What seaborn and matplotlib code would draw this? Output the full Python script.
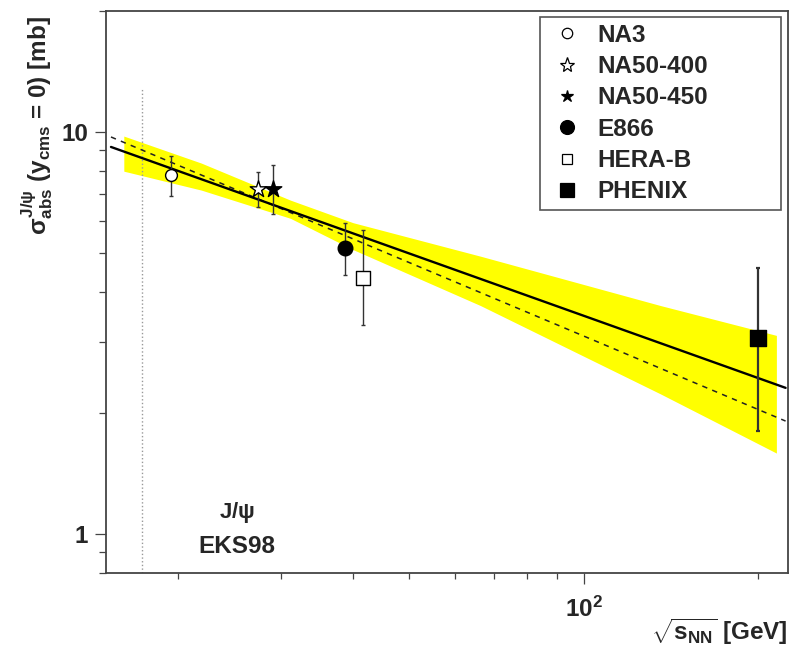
import numpy as np
import pandas as pd
import matplotlib
matplotlib.use("Agg")
import matplotlib.pyplot as plt
import seaborn as sns
from matplotlib import ticker
from matplotlib.lines import Line2D

# ---------------- data ----------------
experiments = ["NA3", "NA50-400", "NA50-450", "E866", "HERA-B", "PHENIX"]
sqrt_s = [19.4, 27.4, 29.1, 38.8, 41.6, 200.0]
sigma = [7.8, 7.2, 7.2, 5.14, 4.33, 3.08]
sigma_up = [8.7, 7.95, 8.3, 5.95, 5.7, 4.6]
sigma_down = [6.95, 6.5, 6.25, 4.4, 3.32, 1.8]

fit_x = [15.3, 223.0]
fit_solid = [9.18, 2.31]
fit_dashed = [9.72, 1.91]

band_x = [16.1, 21.9, 31.2, 40.0, 66.4, 135.8, 215.0]
band_hi = [9.77, 8.37, 6.77, 5.95, 4.91, 3.70, 3.12]
band_lo = [7.99, 7.17, 6.10, 5.10, 3.70, 2.23, 1.59]

sps_x = [17.3, 17.3]
sps_y = [0.8, 12.9]

# marker styles per experiment: (marker, facecolor, size in pt)
styles = {
    "NA3": ("o", "white", 8.5),
    "NA50-400": ("*", "white", 12.5),
    "NA50-450": ("*", "black", 12.5),
    "E866": ("o", "black", 10.5),
    "HERA-B": ("s", "white", 9.5),
    "PHENIX": ("s", "black", 11.5),
}
legend_sizes = {"NA3": 7.5, "NA50-400": 11, "NA50-450": 9, "E866": 10, "HERA-B": 7.5, "PHENIX": 10}

# ---------------- style ----------------
sns.set_style("white")
plt.rcParams["font.family"] = ["Liberation Sans", "DejaVu Sans"]
plt.rcParams["font.weight"] = "bold"
plt.rcParams["mathtext.fontset"] = "custom"
plt.rcParams["mathtext.rm"] = "Liberation Sans:bold"
plt.rcParams["mathtext.it"] = "Liberation Sans:bold"
plt.rcParams["mathtext.bf"] = "Liberation Sans:bold"
plt.rcParams["mathtext.sf"] = "Liberation Sans:bold"

fig = plt.figure(figsize=(7.91, 6.46), dpi=100)
ax = fig.add_axes([0.134, 0.113, 0.862, 0.870])

df = pd.DataFrame({"exp": experiments, "x": sqrt_s, "y": sigma,
                   "up": sigma_up, "down": sigma_down})

# band
ax.fill_between(band_x, band_lo, band_hi, color="#ffff00", linewidth=0, zorder=1)

# fit lines
sns.lineplot(x=fit_x, y=fit_dashed, ax=ax, color="#222222", lw=1.1,
             linestyle=(0, (3.5, 3.5)), zorder=2)
sns.lineplot(x=fit_x, y=fit_solid, ax=ax, color="black", lw=1.7, zorder=2)

# SPS energy marker line
ax.plot(sps_x, sps_y, color="#999999", lw=1.0, linestyle=":", zorder=1.5)

# error bars + markers
for _, r in df.iterrows():
    lw = 1.6 if r["exp"] == "PHENIX" else 1.0
    ax.errorbar([r["x"]], [r["y"]], yerr=[[r["y"] - r["down"]], [r["up"] - r["y"]]],
                fmt="none", ecolor="#333333", elinewidth=lw, capsize=1.6,
                capthick=lw, zorder=3)
    m, fc, s = styles[r["exp"]]
    sns.scatterplot(x=[r["x"]], y=[r["y"]], ax=ax, marker=m, s=s ** 2,
                    facecolor=fc, edgecolor="black", linewidth=1.0, zorder=4)

ax.set_xscale("log")
ax.set_yscale("log")
ax.set_xlim(15, 225)
ax.set_ylim(0.8, 20)

# ticks
ax.xaxis.set_major_locator(ticker.LogLocator(base=10))
ax.xaxis.set_minor_locator(ticker.LogLocator(base=10, subs=np.arange(2, 10)))
ax.xaxis.set_minor_formatter(ticker.NullFormatter())
ax.yaxis.set_major_locator(ticker.LogLocator(base=10))
ax.yaxis.set_minor_locator(ticker.LogLocator(base=10, subs=np.arange(2, 10)))
ax.yaxis.set_major_formatter(ticker.FuncFormatter(lambda v, p: f"{v:g}"))
ax.yaxis.set_minor_formatter(ticker.NullFormatter())
ax.tick_params(axis="both", which="major", direction="out", length=8, width=0.9,
               color="#444444", labelsize=17.5, pad=5, bottom=True, left=True,
               top=False, right=False)
ax.tick_params(axis="x", which="major", pad=9)
ax.tick_params(axis="x", which="minor", direction="out", length=4, width=0.9,
               color="#444444", bottom=True, top=False)
ax.tick_params(axis="y", which="minor", direction="out", length=5, width=0.9,
               color="#444444", left=True, right=False)
for lab in ax.get_xticklabels() + ax.get_yticklabels():
    lab.set_fontweight("bold")

for sp in ax.spines.values():
    sp.set_visible(True)
    sp.set_color("#444444")
    sp.set_linewidth(1.3)

# axis labels
ax.set_ylabel(r"$\sigma^{J/\psi}_{abs}$ (y$_{cms}$ = 0) [mb]", fontsize=17.5,
              fontweight="bold", loc="top")
ax.yaxis.set_label_coords(-0.075, 0.99)
ax.set_xlabel(r"$\sqrt{s_{NN}}$ [GeV]", fontsize=17.5, fontweight="bold", loc="right")
ax.xaxis.set_label_coords(1.0, -0.078)

# annotations
ax.text(0.192, 0.107, r"J/$\psi$", transform=ax.transAxes, ha="center", va="center",
        fontsize=16, fontweight="bold")
ax.text(0.192, 0.048, "EKS98", transform=ax.transAxes, ha="center", va="center",
        fontsize=17.5, fontweight="bold")

# legend
handles = []
for e in experiments:
    m, fc, s = styles[e]
    handles.append(Line2D([], [], linestyle="none", marker=m, markerfacecolor=fc,
                          markeredgecolor="black", markeredgewidth=0.9,
                          markersize=legend_sizes[e]))
leg = ax.legend(handles, experiments, loc="upper right",
                bbox_to_anchor=(0.636, 0.653, 0.354, 0.336), mode="expand",
                borderaxespad=0, fontsize=17.5, frameon=True, fancybox=False,
                edgecolor="#555555", framealpha=1, handlelength=1.7,
                handletextpad=0.4, labelspacing=0.34, borderpad=0.28)
leg.get_frame().set_linewidth(1.2)
for t in leg.get_texts():
    t.set_fontweight("bold")

fig.savefig("out.png", dpi=100)
